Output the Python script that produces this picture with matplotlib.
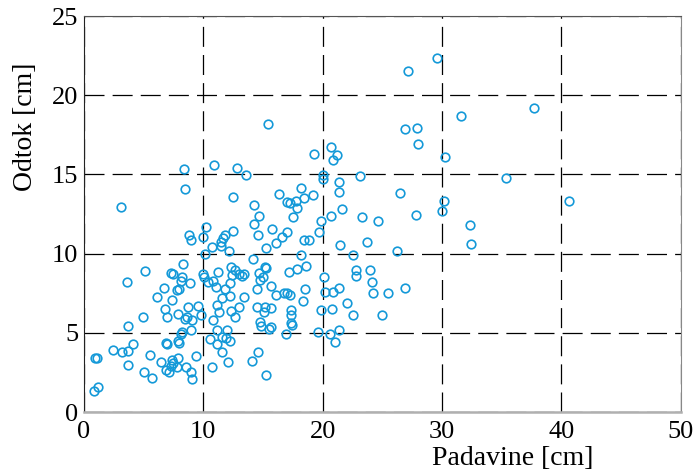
import matplotlib
matplotlib.use("Agg")
import matplotlib.pyplot as plt

# Padavine (x) in odtok (y), oboje v cm
padavine = [
    29.6, 27.16, 37.7, 31.6, 15.45, 26.9, 27.9, 27.97, 20.7, 19.3,
    21.2, 30.26, 20.9, 10.9, 12.8, 8.36, 13.6, 20.06, 20.06, 23.1,
    35.4, 21.4, 8.5, 18.2, 21.4, 26.5, 16.3, 19.2, 12.5, 18.4,
    17.74, 17.0, 17.27, 30.15, 40.65, 14.25, 3.07, 17.83, 21.6, 30.0,
    27.86, 14.7, 20.7, 23.3, 17.55, 19.87, 24.6, 14.25, 32.36, 10.2,
    15.73, 12.5, 19.7, 17.04, 11.8, 14.6, 8.83, 16.57, 9.97, 11.68,
    9.0, 18.47, 18.83, 23.7, 11.5, 16.1, 32.4, 21.43, 11.48, 10.7,
    15.23, 12.13, 26.2, 10.1, 18.15, 22.5, 14.17, 8.33, 18.6, 12.3,
    15.2, 15.28, 17.85, 12.66, 22.8, 23.97, 5.14, 17.21, 11.2, 14.7,
    7.3, 7.43, 9.95, 13.0, 13.4, 12.38, 13.2, 22.8, 8.24, 20.1,
    10.03, 15.03, 14.78, 8.1, 10.84, 24.1, 3.6, 10.4, 12.26, 8.86,
    15.65, 11.06, 6.7, 26.9, 21.35, 18.5, 7.94, 11.79, 14.47, 7.8,
    20.2, 20.87, 25.5, 16.76, 16.99, 24.2, 16.1, 17.27, 12.2, 13.39,
    6.12, 11.54, 7.4, 18.36, 22.0, 11.12, 9.53, 13.0, 15.17, 8.69,
    14.47, 15.65, 6.79, 20.8, 17.33, 19.9, 12.3, 15.06, 11.29, 7.88,
    9.8, 17.33, 25.0, 22.5, 6.96, 8.63, 12.63, 4.92, 8.5, 9.05,
    10.78, 14.78, 17.35, 17.4, 14.84, 3.66, 15.67, 15.53, 11.17, 11.99,
    21.4, 8.94, 19.6, 8.21, 8.1, 20.6, 16.96, 11.6, 11.88, 10.53,
    7.9, 12.27, 21.05, 8.0, 6.87, 11.12, 4.08, 6.93, 2.46, 3.66,
    14.6, 3.16, 11.6, 5.53, 9.36, 7.85, 0.92, 1.06, 7.35, 14.1,
    6.48, 12.04, 7.43, 3.72, 7.27, 7.77, 8.58, 10.76, 6.87, 7.12,
    5.0, 8.97, 15.28, 5.7, 9.05, 1.2, 0.84,
]
odtok = [
    22.33, 21.55, 19.2, 18.7, 18.16, 17.85, 17.93, 16.9, 16.7, 16.27,
    16.2, 16.12, 15.9, 15.57, 15.4, 15.34, 14.94, 14.96, 14.7, 14.88,
    14.77, 14.54, 14.06, 14.12, 13.9, 13.8, 13.74, 13.68, 13.57, 13.5,
    13.32, 13.28, 13.17, 13.3, 13.3, 13.09, 12.92, 12.88, 12.8, 12.69,
    12.44, 12.4, 12.35, 12.33, 12.31, 12.06, 12.06, 11.9, 11.78, 11.7,
    11.53, 11.4, 11.37, 11.34, 11.2, 11.2, 11.17, 11.07, 11.03, 10.96,
    10.86, 10.84, 10.84, 10.75, 10.73, 10.65, 10.63, 10.54, 10.48, 10.4,
    10.37, 10.16, 10.14, 10.0, 9.93, 9.89, 9.68, 9.32, 9.24, 9.17,
    9.17, 9.07, 9.0, 8.96, 8.94, 8.94, 8.9, 8.86, 8.82, 8.79,
    8.75, 8.71, 8.71, 8.71, 8.71, 8.63, 8.6, 8.6, 8.54, 8.54,
    8.52, 8.5, 8.33, 8.29, 8.27, 8.2, 8.19, 8.19, 8.14, 8.12,
    7.93, 7.87, 7.85, 7.83, 7.81, 7.78, 7.78, 7.77, 7.77, 7.7,
    7.6, 7.56, 7.51, 7.49, 7.49, 7.49, 7.41, 7.39, 7.3, 7.26,
    7.24, 7.17, 7.09, 7.02, 6.88, 6.75, 6.67, 6.65, 6.65, 6.61,
    6.61, 6.59, 6.5, 6.48, 6.44, 6.44, 6.36, 6.33, 6.31, 6.17,
    6.12, 6.12, 6.12, 6.1, 6.02, 6.02, 6.02, 6.0, 5.87, 5.83,
    5.79, 5.68, 5.62, 5.5, 5.43, 5.41, 5.39, 5.26, 5.18, 5.18,
    5.18, 5.16, 5.07, 5.03, 4.92, 4.94, 4.92, 4.75, 4.66, 4.63,
    4.5, 4.47, 4.43, 4.37, 4.38, 4.29, 4.29, 4.27, 3.9, 3.85,
    3.81, 3.79, 3.77, 3.58, 3.51, 3.43, 3.39, 3.39, 3.28, 3.22,
    3.16, 3.14, 3.11, 2.99, 2.92, 2.86, 2.86, 2.82, 2.65, 2.54,
    2.53, 2.5, 2.36, 2.13, 2.06, 1.6, 1.34,
]

x_ticks = [0, 10, 20, 30, 40, 50]
y_ticks = [0, 5, 10, 15, 20, 25]

plt.rcParams["font.family"] = ["Liberation Serif", "DejaVu Serif"]

fig = plt.figure(figsize=(6.97, 4.75), dpi=100)
ax = fig.add_axes([0.1205, 0.1326, 0.8561, 0.8337])

ax.plot(padavine, odtok, "o", markerfacecolor="none", markeredgecolor="#1499d8",
        markersize=6.2, markeredgewidth=1.2, zorder=3)

ax.set_xlim(0, 50)
ax.set_ylim(0, 25)
ax.set_xticks(x_ticks)
ax.set_yticks(y_ticks)
ax.tick_params(length=0, labelsize=19)
ax.tick_params(axis="x", pad=6.5)
ax.tick_params(axis="y", pad=4)

ax.grid(True, color="black", linewidth=0.9, linestyle=(0, (16, 6.5)))
ax.set_axisbelow(True)

ax.spines["left"].set_color("#222222")
ax.spines["top"].set_color("#555555")
ax.spines["right"].set_color("#888888")
ax.spines["bottom"].set_color("#b0b0b0")
ax.spines["bottom"].set_linewidth(1.8)

# oznake osi niso na sredini, ampak zamaknjene proti koncu osi
ax.set_xlabel("Padavine [cm]", fontsize=20, labelpad=2, x=0.718)
ax.set_ylabel("Odtok [cm]", fontsize=20, labelpad=10, y=0.72)

fig.savefig("out.png", dpi=100)
